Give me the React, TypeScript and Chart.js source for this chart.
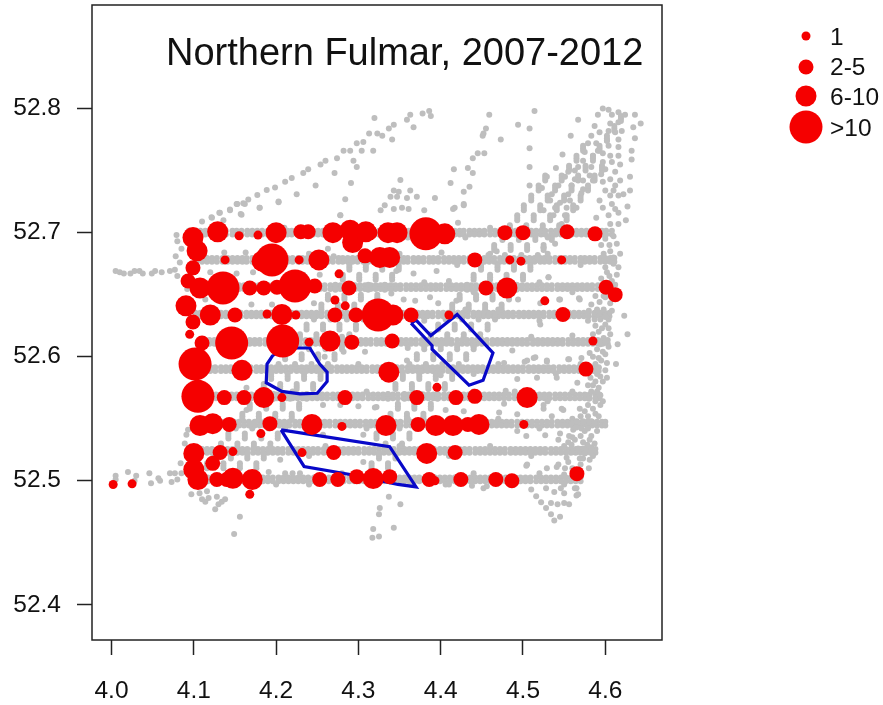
import React, { useEffect, useRef } from "react";
import { Chart, registerables } from "chart.js";

Chart.register(...registerables);

const chartTitle = "Northern Fulmar, 2007-2012";
const xTickValues = [4.0, 4.1, 4.2, 4.3, 4.4, 4.5, 4.6];
const yTickValues = [52.4, 52.5, 52.6, 52.7, 52.8];
const legendLabels = ["1", "2-5", "6-10", ">10"];

// Sightings by count class: [lon, lat]
const sightings1: number[][] = [
  [4.155,52.6975],[4.178,52.698],[4.138,52.678],[4.228,52.678],[4.484,52.678],[4.4975,52.677],[4.547,52.678],
  [4.2765,52.6668],[4.2715,52.6457],[4.284,52.641],[4.5265,52.645],[4.095,52.618],[4.189,52.6344],[4.224,52.6336],
  [4.41,52.6336],[4.24,52.6117],[4.585,52.6126],[4.207,52.567],[4.1815,52.538],[4.28,52.5438],[4.501,52.5454],
  [4.3955,52.5753],[4.1475,52.5235],[4.2315,52.5227],[4.168,52.489],[4.002,52.497],[4.025,52.4975],[4.393,52.5],
];
const sightings2to5: number[][] = [
  [4.23,52.7007],[4.239,52.7007],[4.314,52.7],[4.478,52.7],[4.5,52.7],[4.5535,52.7007],[4.5875,52.699],[4.099,52.6716],
  [4.093,52.661],[4.099,52.628],[4.11,52.611],[4.308,52.6813],[4.4415,52.678],[4.168,52.6554],[4.185,52.6554],[4.201,52.656],
  [4.247,52.657],[4.2885,52.6554],[4.455,52.6554],[4.601,52.656],[4.612,52.65],[4.15,52.6336],[4.2715,52.6336],[4.297,52.6336],
  [4.364,52.6336],[4.5485,52.634],[4.292,52.6117],[4.341,52.6126],[4.137,52.567],[4.161,52.567],[4.2837,52.567],[4.143,52.5454],
  [4.1925,52.546],[4.371,52.567],[4.4185,52.567],[4.4415,52.568],[4.5765,52.59],[4.3725,52.5454],[4.433,52.5454],[4.132,52.5227],
  [4.27,52.5227],[4.4175,52.5227],[4.123,52.514],[4.128,52.501],[4.14,52.501],[4.253,52.501],[4.275,52.501],[4.298,52.5033],
  [4.338,52.5033],[4.386,52.501],[4.4245,52.501],[4.467,52.501],[4.4865,52.5],[4.5655,52.5057],
];
const sightings6to10: number[][] = [
  [4.099,52.696],[4.129,52.7007],[4.2,52.7],[4.269,52.7],[4.29,52.702],[4.293,52.692],[4.309,52.7007],[4.336,52.7],[4.347,52.7],
  [4.405,52.699],[4.104,52.6853],[4.1075,52.6554],[4.0905,52.641],[4.12,52.6336],[4.183,52.677],[4.252,52.678],[4.326,52.68],
  [4.338,52.68],[4.4805,52.6554],[4.207,52.634],[4.342,52.6336],[4.2655,52.6126],[4.1585,52.589],[4.185,52.567],[4.1075,52.5445],
  [4.123,52.546],[4.2435,52.5454],[4.3335,52.5445],[4.394,52.5445],[4.415,52.5445],[4.4465,52.5454],[4.505,52.567],[4.337,52.5875],
  [4.1,52.522],[4.383,52.522],[4.1,52.509],[4.105,52.501],[4.1475,52.502],[4.171,52.501],[4.318,52.5017],
];
const sightingsOver10: number[][] = [
  [4.195,52.678],[4.1355,52.6554],[4.223,52.657],[4.324,52.6336],[4.146,52.611],[4.208,52.6126],[4.1015,52.594],[4.105,52.568],[4.382,52.699],
];

// Blue survey polygons
const polygonA: number[][] = [[4.196,52.601],[4.189,52.594],[4.188,52.579],[4.207,52.572],[4.229,52.57],[4.25,52.5705],[4.262,52.58],[4.262,52.5875],[4.253,52.594],[4.241,52.607],[4.229,52.607],[4.211,52.607],[4.196,52.601]];
const polygonB: number[][] = [[4.364,52.627],[4.3895,52.609],[4.3895,52.606],[4.4345,52.577],[4.4515,52.581],[4.4635,52.603],[4.42,52.634],[4.388,52.617],[4.37,52.6295],[4.364,52.627]];
const polygonC: number[][] = [[4.206,52.541],[4.338,52.5275],[4.37,52.495],[4.348,52.497],[4.29,52.505],[4.234,52.5115],[4.206,52.541]];

// Survey effort: east-west transects, paired bands [lat, lons]
const effortRows: [number, number[]][] = [
  [52.7015,[4.094,4.108,4.121,4.133,4.147,4.158,4.171,4.183,4.196,4.208,4.219,4.232,4.245,4.257,4.268,4.282,4.293,4.306,4.318,4.331,4.342,4.355,4.367,4.379,4.392,4.404,4.417,4.428,4.441,4.453,4.466,4.478,4.491,4.503,4.516,4.527,4.54,4.552,4.565,4.577,4.59,4.601]],
  [52.6985,[4.101,4.114,4.127,4.139,4.152,4.165,4.177,4.19,4.202,4.214,4.226,4.239,4.251,4.263,4.275,4.288,4.3,4.312,4.325,4.337,4.349,4.361,4.373,4.386,4.398,4.41,4.423,4.435,4.447,4.46,4.472,4.485,4.497,4.51,4.522,4.534,4.546,4.559,4.571,4.583,4.596,4.608]],
  [52.6795,[4.103,4.116,4.128,4.141,4.153,4.164,4.177,4.19,4.201,4.214,4.227,4.238,4.25,4.263,4.276,4.287,4.299,4.312,4.324,4.337,4.349,4.36,4.373,4.386,4.397,4.41,4.422,4.435,4.446,4.459,4.472,4.483,4.496,4.508,4.521,4.532,4.545,4.557,4.57,4.581,4.594,4.606]],
  [52.6765,[4.11,4.122,4.135,4.147,4.159,4.171,4.184,4.196,4.208,4.22,4.232,4.245,4.257,4.269,4.281,4.293,4.306,4.318,4.33,4.343,4.355,4.367,4.379,4.391,4.404,4.416,4.428,4.44,4.453,4.465,4.477,4.489,4.502,4.514,4.526,4.539,4.551,4.563,4.575,4.587,4.6,4.611]],
  [52.6575,[4.092,4.105,4.117,4.13,4.142,4.155,4.167,4.179,4.191,4.204,4.216,4.229,4.24,4.253,4.266,4.278,4.29,4.302,4.315,4.327,4.339,4.351,4.364,4.376,4.388,4.4,4.413,4.425,4.437,4.45,4.462,4.474,4.486,4.499,4.511,4.523,4.535,4.548,4.56,4.572,4.584,4.597]],
  [52.6545,[4.098,4.111,4.123,4.136,4.148,4.161,4.173,4.185,4.198,4.21,4.222,4.234,4.247,4.259,4.272,4.284,4.296,4.308,4.321,4.333,4.345,4.358,4.37,4.382,4.394,4.407,4.419,4.431,4.443,4.456,4.468,4.48,4.493,4.505,4.517,4.529,4.542,4.554,4.566,4.578,4.591,4.603]],
  [52.6355,[4.102,4.114,4.127,4.139,4.151,4.164,4.176,4.188,4.2,4.213,4.225,4.237,4.249,4.262,4.274,4.286,4.298,4.311,4.323,4.335,4.348,4.36,4.372,4.384,4.397,4.409,4.421,4.433,4.446,4.458,4.47,4.482,4.495,4.507,4.519,4.532,4.544,4.556,4.568,4.58,4.593,4.605]],
  [52.6325,[4.108,4.12,4.133,4.145,4.157,4.17,4.182,4.194,4.207,4.219,4.231,4.243,4.255,4.268,4.28,4.292,4.305,4.317,4.329,4.341,4.354,4.366,4.378,4.39,4.403,4.415,4.427,4.44,4.452,4.464,4.476,4.488,4.501,4.513,4.525,4.538,4.55,4.562,4.574,4.587,4.599]],
  [52.6135,[4.113,4.125,4.137,4.15,4.162,4.174,4.187,4.199,4.211,4.223,4.236,4.248,4.26,4.272,4.285,4.297,4.309,4.322,4.334,4.346,4.358,4.37,4.383,4.395,4.407,4.42,4.432,4.444,4.456,4.469,4.481,4.493,4.505,4.518,4.53,4.542,4.555,4.567,4.579,4.591,4.603]],
  [52.6105,[4.119,4.131,4.143,4.156,4.168,4.18,4.193,4.205,4.217,4.229,4.242,4.254,4.266,4.279,4.291,4.303,4.315,4.328,4.34,4.352,4.364,4.377,4.389,4.401,4.413,4.426,4.438,4.45,4.463,4.475,4.487,4.499,4.512,4.524,4.536,4.548,4.561,4.573,4.585,4.597]],
  [52.5915,[4.12,4.133,4.145,4.157,4.169,4.182,4.194,4.206,4.218,4.231,4.243,4.255,4.267,4.28,4.292,4.304,4.317,4.329,4.341,4.353,4.366,4.378,4.39,4.402,4.415,4.427,4.439,4.451,4.464,4.476,4.488,4.5,4.513,4.525,4.537,4.55,4.562,4.574,4.586]],
  [52.5885,[4.126,4.139,4.151,4.163,4.176,4.188,4.2,4.212,4.225,4.237,4.249,4.261,4.274,4.286,4.298,4.31,4.323,4.335,4.347,4.36,4.372,4.384,4.396,4.409,4.421,4.433,4.445,4.458,4.47,4.482,4.494,4.507,4.519,4.531,4.544,4.556,4.568,4.58,4.592]],
  [52.5695,[4.121,4.134,4.146,4.158,4.17,4.183,4.195,4.207,4.22,4.232,4.244,4.256,4.269,4.281,4.293,4.305,4.318,4.33,4.342,4.355,4.367,4.379,4.391,4.404,4.416,4.428,4.44,4.453,4.465,4.477,4.49,4.502,4.514,4.526,4.539,4.551,4.563,4.575,4.588]],
  [52.5665,[4.127,4.14,4.152,4.164,4.177,4.189,4.201,4.213,4.226,4.238,4.25,4.262,4.275,4.287,4.299,4.312,4.324,4.336,4.348,4.361,4.373,4.385,4.397,4.41,4.422,4.434,4.447,4.459,4.471,4.483,4.496,4.508,4.52,4.532,4.545,4.557,4.569,4.581,4.593]],
  [52.5475,[4.112,4.124,4.137,4.149,4.161,4.174,4.186,4.198,4.21,4.223,4.235,4.247,4.259,4.272,4.284,4.296,4.309,4.321,4.333,4.345,4.358,4.37,4.382,4.394,4.407,4.419,4.431,4.443,4.456,4.468,4.48,4.493,4.505,4.517,4.529,4.542,4.554,4.566,4.578,4.59,4.6]],
  [52.5445,[4.118,4.13,4.143,4.155,4.167,4.18,4.192,4.204,4.216,4.229,4.241,4.253,4.265,4.278,4.29,4.302,4.315,4.327,4.339,4.351,4.364,4.376,4.388,4.4,4.413,4.425,4.437,4.45,4.462,4.474,4.486,4.499,4.511,4.523,4.535,4.548,4.56,4.572,4.584,4.596]],
  [52.5255,[4.104,4.116,4.129,4.141,4.153,4.165,4.178,4.19,4.202,4.215,4.227,4.239,4.251,4.264,4.276,4.288,4.3,4.313,4.325,4.337,4.35,4.362,4.374,4.386,4.399,4.411,4.423,4.435,4.448,4.46,4.472,4.485,4.497,4.509,4.521,4.534,4.546,4.558,4.57,4.582]],
  [52.5225,[4.11,4.122,4.135,4.147,4.159,4.172,4.184,4.196,4.208,4.221,4.233,4.245,4.258,4.27,4.282,4.294,4.307,4.319,4.331,4.343,4.356,4.368,4.38,4.392,4.405,4.417,4.429,4.442,4.454,4.466,4.478,4.491,4.503,4.515,4.527,4.54,4.552,4.564,4.576,4.588]],
  [52.5025,[4.104,4.117,4.129,4.141,4.153,4.166,4.178,4.19,4.203,4.215,4.227,4.239,4.252,4.264,4.276,4.289,4.301,4.313,4.325,4.338,4.35,4.362,4.374,4.387,4.399,4.411,4.423,4.436,4.448,4.46,4.473,4.485,4.497,4.509,4.522,4.534,4.546,4.558,4.57]],
  [52.4995,[4.11,4.123,4.135,4.147,4.16,4.172,4.184,4.196,4.209,4.221,4.233,4.246,4.258,4.27,4.282,4.295,4.307,4.319,4.331,4.344,4.356,4.368,4.381,4.393,4.405,4.417,4.43,4.442,4.454,4.466,4.479,4.491,4.503,4.516,4.528,4.54,4.552,4.564]],
];

// Small bumps along the transects [lon, lat]
const effortBumps: number[][] = [
  [4.21,52.704],[4.31,52.705],[4.46,52.704],[4.53,52.696],[4.43,52.696],[4.36,52.696],[4.24,52.683],[4.35,52.683],[4.42,52.674],[4.53,52.683],[4.57,52.674],[4.46,52.683],
  [4.38,52.66],[4.44,52.652],[4.52,52.66],[4.56,52.652],[4.41,52.661],[4.34,52.651],[4.33,52.637],[4.43,52.638],[4.52,52.629],[4.47,52.638],[4.58,52.637],[4.38,52.629],
  [4.51,52.616],[4.44,52.608],[4.56,52.617],[4.28,52.616],[4.36,52.607],[4.47,52.594],[4.54,52.586],[4.4,52.585],[4.3,52.594],[4.44,52.586],[4.57,52.594],
  [4.31,52.572],[4.37,52.564],[4.49,52.572],[4.53,52.564],[4.56,52.572],[4.44,52.572],[4.22,52.572],[4.47,52.55],[4.52,52.542],[4.56,52.55],[4.36,52.55],[4.31,52.542],[4.41,52.55],
  [4.46,52.528],[4.51,52.52],[4.55,52.528],[4.41,52.52],[4.35,52.528],[4.24,52.52],[4.26,52.528],[4.44,52.506],[4.41,52.497],[4.52,52.506],[4.55,52.497],[4.22,52.506],[4.24,52.497],[4.28,52.506],[4.2,52.497],
];

// Survey effort: diagonal transects
const diagLatsWest = [52.51,52.518,52.526,52.534,52.542,52.55,52.558,52.566,52.574,52.582,52.59,52.598,52.606,52.614,52.622,52.63,52.638,52.646,52.654,52.662,52.67];
const diagLatsWestMid = [52.512,52.52,52.528,52.536,52.544,52.552,52.56,52.568,52.576,52.584,52.592,52.6,52.608,52.616,52.624,52.632,52.64,52.648,52.656,52.664,52.672];
const diagLatsWestShifted = [52.514,52.522,52.53,52.538,52.546,52.554,52.562,52.57,52.578,52.586,52.594,52.602,52.61,52.618,52.626,52.634,52.642,52.65,52.658,52.666,52.674];
const diagWest1 = [4.116,4.125,4.133,4.142,4.151,4.159,4.168,4.177,4.185,4.194,4.203,4.211,4.22,4.229,4.237,4.246,4.255,4.263,4.272,4.281,4.289];
const diagWest2 = [4.136,4.145,4.153,4.162,4.171,4.179,4.188,4.197,4.205,4.214,4.223,4.231,4.24,4.249,4.257,4.266,4.275,4.283,4.292,4.301,4.309];
const diagWest3 = [4.156,4.165,4.173,4.182,4.191,4.199,4.208,4.217,4.225,4.234,4.243,4.251,4.26,4.269,4.277,4.286,4.295,4.303,4.312,4.321,4.329];
const diagWest4 = [4.176,4.185,4.193,4.202,4.211,4.219,4.228,4.237,4.245,4.254,4.263,4.271,4.28,4.289,4.297,4.306,4.315,4.323,4.332,4.341,4.349];
const diagLatsEast = [52.51,52.518,52.526,52.534,52.542,52.55,52.558,52.566,52.574,52.582,52.59,52.598,52.606,52.614,52.622,52.63,52.638,52.646,52.654,52.662,52.67,52.678,52.686,52.694,52.702,52.71,52.718,52.726,52.734,52.742,52.75,52.758,52.766,52.774,52.782,52.79];
const diagLatsEastMid = [52.512,52.52,52.528,52.536,52.544,52.552,52.56,52.568,52.576,52.584,52.592,52.6,52.608,52.616,52.624,52.632,52.64,52.648,52.656,52.664,52.672,52.68,52.688,52.696,52.704,52.712,52.72,52.728,52.736,52.744,52.752,52.76,52.768,52.776,52.784,52.792];
const diagLatsEastShifted = [52.514,52.522,52.53,52.538,52.546,52.554,52.562,52.57,52.578,52.586,52.594,52.602,52.61,52.618,52.626,52.634,52.642,52.65,52.658,52.666,52.674,52.682,52.69,52.698,52.706,52.714,52.722,52.73,52.738,52.746,52.754,52.762,52.77,52.778,52.786,52.794];
const diagEast1 = [0,0,0,0,0,0,0,4.336,4.345,4.354,4.362,4.371,4.38,4.388,4.397,4.406,4.414,4.423,4.432,4.44,4.449,4.458,4.465,4.475,4.484,4.493,4.501,4.51,4.519,4.527];
const diagEast2 = [0,0,0,4.322,4.33,4.339,4.348,4.356,4.365,4.374,4.382,4.391,4.4,4.408,4.417,4.426,4.434,4.443,4.452,4.46,4.469,4.478,4.485,4.495,4.504,4.513,4.521,4.53,4.539,4.547,4.556,4.565,4.573];
const diagEast3 = [4.316,4.325,4.333,4.342,4.35,4.359,4.368,4.376,4.385,4.394,4.402,4.411,4.42,4.428,4.437,4.446,4.454,4.463,4.472,4.48,4.489,4.498,4.505,4.515,4.524,4.533,4.541,4.55,4.559,4.567,4.576,4.585,4.593,4.602,4.611,4.619];
const diagEast4 = [4.336,4.345,4.353,4.362,4.37,4.379,4.388,4.396,4.405,4.414,4.422,4.431,4.44,4.448,4.457,4.466,4.474,4.483,4.492,4.5,4.509,4.518,4.525,4.535,4.544,4.553,4.561,4.57,4.579,4.587,4.596];

// Survey effort: outer tracks and scatter [lon, lat]
const effortNorthWest: number[][] = [
  [4.1215,52.7123],[4.1317,52.716],[4.1439,52.7187],[4.1528,52.7231],[4.1601,52.7236],[4.1662,52.7268],[4.1772,52.7303],[4.1886,52.7344],[4.1987,52.7363],[4.211,52.741],[4.219,52.744],[4.233,52.748],[4.239,52.751],[4.254,52.755],[4.26,52.758],[4.274,52.76],[4.282,52.766],[4.29,52.766],[4.298,52.772],[4.306,52.773],[4.313,52.78],[4.323,52.78],[4.329,52.778],[4.337,52.784],[4.343,52.787],[4.359,52.791],[4.363,52.795],[4.378,52.796],[4.386,52.798],[4.388,52.794],
  [4.3195,52.7925],[4.367,52.785],[4.341,52.775],[4.318,52.766],[4.304,52.766],[4.294,52.758],[4.298,52.753],[4.271,52.748],[4.248,52.738],[4.225,52.731],[4.203,52.725],[4.18,52.72],[4.157,52.715],[4.291,52.74],[4.284,52.727],[4.278,52.714],
  [4.351,52.7425],[4.343,52.734],[4.349,52.733],[4.363,52.734],[4.347,52.729],[4.339,52.729],[4.359,52.728],[4.371,52.729],[4.332,52.722],[4.343,52.719],[4.353,52.72],[4.361,52.719],[4.38,52.718],[4.393,52.728],[4.327,52.718],[4.417,52.72],[4.428,52.723],
  [4.459,52.795],[4.455,52.784],[4.452,52.78],[4.451,52.778],[4.473,52.775],[4.445,52.764],[4.453,52.764],[4.439,52.76],[4.416,52.751],[4.433,52.752],[4.439,52.748],[4.412,52.74],[4.435,52.737],[4.428,52.733],[4.494,52.787],[4.508,52.784],[4.514,52.798],[4.508,52.768],[4.508,52.753],[4.508,52.738],
];
const effortNorthEast: number[][] = [
  [4.597,52.8],[4.591,52.795],[4.604,52.799],[4.608,52.795],[4.616,52.797],[4.624,52.795],[4.636,52.795],[4.643,52.788],[4.606,52.788],[4.616,52.789],[4.634,52.785],[4.587,52.786],[4.593,52.781],[4.604,52.782],[4.612,52.781],[4.62,52.782],[4.636,52.776],[4.583,52.778],[4.602,52.774],[4.616,52.775],[4.579,52.772],[4.589,52.772],[4.604,52.77],[4.616,52.769],[4.632,52.766],[4.575,52.765],[4.591,52.766],[4.597,52.764],[4.606,52.762],[4.616,52.762],[4.585,52.762],[4.573,52.758],[4.597,52.757],[4.608,52.757],[4.618,52.755],[4.632,52.759],[4.567,52.753],[4.563,52.75],[4.583,52.753],[4.6,52.751],[4.612,52.749],[4.63,52.745],[4.555,52.749],[4.581,52.746],[4.595,52.747],[4.606,52.743],[4.618,52.742],[4.551,52.745],[4.563,52.743],[4.573,52.742],[4.597,52.741],[4.585,52.742],[4.612,52.738],[4.63,52.734],[4.543,52.738],[4.559,52.738],[4.573,52.735],[4.6,52.734],[4.61,52.734],[4.622,52.731],[4.535,52.731],[4.555,52.731],[4.571,52.732],[4.593,52.726],[4.606,52.73],[4.616,52.73],[4.533,52.726],[4.545,52.724],[4.557,52.726],[4.608,52.723],[4.627,52.721],[4.525,52.718],[4.539,52.72],[4.553,52.72],[4.565,52.72],[4.597,52.72],[4.612,52.719],[4.616,52.716],[4.537,52.714],[4.551,52.714],[4.589,52.712],[4.604,52.714],[4.625,52.71],[4.547,52.707],[4.606,52.707],[4.616,52.707],[4.567,52.791],[4.558,52.778],[4.548,52.763],[4.54,52.752],[4.529,52.745],[4.523,52.736],
];
const effortEast: number[][] = [
  [4.614,52.691],[4.606,52.685],[4.618,52.683],[4.598,52.683],[4.61,52.675],[4.616,52.672],[4.602,52.668],[4.614,52.666],[4.608,52.661],[4.598,52.649],[4.588,52.649],[4.583,52.642],[4.606,52.643],[4.598,52.638],[4.608,52.637],[4.604,52.63],[4.594,52.63],[4.579,52.629],[4.604,52.623],[4.596,52.623],[4.588,52.625],[4.606,52.618],[4.598,52.615],[4.594,52.61],[4.604,52.608],[4.6,52.602],[4.592,52.599],[4.581,52.603],[4.602,52.595],[4.592,52.591],[4.594,52.584],[4.588,52.58],[4.579,52.577],[4.592,52.575],[4.583,52.572],[4.594,52.569],[4.577,52.569],[4.588,52.564],[4.594,52.561],[4.579,52.561],[4.569,52.558],[4.588,52.554],[4.579,52.552],[4.583,52.548],[4.573,52.548],[4.565,52.548],[4.559,52.546],[4.579,52.542],[4.571,52.542],[4.561,52.541],[4.581,52.533],[4.573,52.531],[4.563,52.533],[4.559,52.529],[4.583,52.527],[4.573,52.526],[4.581,52.517],[4.573,52.518],[4.555,52.515],[4.551,52.51],[4.563,52.494],[4.565,52.488],
  [4.623,52.633],[4.627,52.618],[4.613,52.594],[4.602,52.583],[4.615,52.61],[4.569,52.646],[4.545,52.646],[4.531,52.664],[4.521,52.626],[4.555,52.598],[4.529,52.596],[4.513,52.599],[4.502,52.596],[4.571,52.599],[4.549,52.557],[4.525,52.561],[4.535,52.552],[4.545,52.538],[4.555,52.531],[4.504,52.512],[4.541,52.511],[4.569,52.518],[4.521,52.643],
];
const effortEastFill: number[][] = [
  [4.6,52.695],[4.61,52.697],[4.605,52.69],[4.595,52.69],[4.61,52.68],[4.6,52.672],[4.605,52.665],[4.595,52.663],[4.612,52.658],[4.6,52.648],[4.593,52.644],[4.59,52.638],[4.6,52.632],[4.587,52.63],[4.6,52.626],[4.592,52.62],[4.585,52.618],[4.6,52.612],[4.59,52.606],[4.597,52.604],[4.585,52.6],[4.595,52.597],[4.588,52.594],[4.6,52.589],[4.59,52.586],[4.582,52.583],[4.597,52.58],[4.585,52.577],[4.59,52.572],[4.58,52.566],[4.597,52.564],[4.585,52.558],[4.575,52.556],[4.592,52.552],[4.58,52.548],[4.57,52.552],[4.587,52.546],[4.565,52.543],[4.575,52.54],[4.59,52.54],[4.583,52.536],[4.57,52.536],[4.56,52.535],[4.578,52.529],[4.567,52.526],[4.587,52.53],[4.56,52.523],[4.575,52.522],[4.585,52.52],[4.57,52.513],[4.56,52.51],[4.58,52.51],[4.55,52.505],[4.565,52.507],
];
const effortSouth: number[][] = [
  [4.516,52.4875],[4.522,52.4826],[4.528,52.478],[4.534,52.482],[4.542,52.481],[4.55,52.482],[4.556,52.481],[4.534,52.473],[4.538,52.468],[4.545,52.471],[4.51,52.493],[4.528,52.494],[4.538,52.491],[4.546,52.494],[4.55,52.49],[4.565,52.494],[4.567,52.489],
  [4.337,52.487],[4.351,52.481],[4.326,52.478],[4.325,52.473],[4.343,52.462],[4.318,52.461],[4.325,52.455],[4.317,52.454],[4.149,52.457],[4.156,52.471],
  [4.097,52.489],[4.107,52.49],[4.116,52.4915],[4.11,52.485],[4.118,52.486],[4.128,52.487],[4.138,52.485],[4.13,52.481],[4.126,52.477],[4.134,52.483],[4.114,52.483],
];
const effortWest: number[][] = [
  [4.005,52.504],[4.005,52.501],[4.02,52.507],[4.03,52.504],[4.028,52.5],[4.046,52.506],[4.057,52.502],[4.048,52.498],[4.059,52.5],[4.071,52.506],[4.077,52.506],[4.085,52.506],[4.073,52.499],[4.08,52.501],[4.084,52.514],
  [4.005,52.669],[4.01,52.668],[4.015,52.667],[4.023,52.667],[4.028,52.669],[4.034,52.669],[4.038,52.667],[4.049,52.667],[4.053,52.669],[4.061,52.668],[4.071,52.669],[4.077,52.67],[4.08,52.665],
  [4.079,52.698],[4.08,52.693],[4.085,52.687],[4.078,52.681],[4.083,52.676],[4.093,52.541],[4.091,52.537],[4.089,52.53],
];
const effortScatter: number[][] = [
  [4.415,52.719],[4.428,52.722],[4.367,52.667],[4.346,52.669],[4.395,52.669],[4.355,52.646],[4.387,52.648],[4.369,52.645],[4.397,52.643],[4.419,52.645],[4.494,52.646],[4.544,52.646],[4.568,52.647],[4.531,52.664],[4.421,52.708],[4.468,52.685],[4.525,52.688],[4.539,52.691],[4.401,52.684],
  [4.359,52.597],[4.477,52.595],[4.505,52.597],[4.529,52.597],[4.515,52.5995],[4.487,52.605],[4.556,52.598],[4.479,52.5725],[4.493,52.582],[4.517,52.583],[4.541,52.583],[4.566,52.579],[4.322,52.5595],[4.406,52.557],[4.428,52.556],[4.471,52.555],[4.477,52.562],[4.493,52.5535],[4.525,52.558],[4.547,52.558],[4.493,52.54],[4.504,52.536],[4.527,52.5366],[4.543,52.533],[4.556,52.536],[4.505,52.513],[4.543,52.513],[4.553,52.5185],[4.529,52.51],[4.452,52.494],[4.406,52.497],[4.438,52.496],[4.456,52.4955],[4.363,52.497],
  [4.137,52.684],[4.163,52.684],[4.263,52.687],[4.27,52.681],[4.17,52.642],[4.195,52.642],[4.246,52.643],[4.278,52.714],[4.203,52.7245],[4.18,52.72],[4.158,52.7145],[4.152,52.723],[4.162,52.723],[4.144,52.718],[4.131,52.716],[4.122,52.712],[4.11,52.709],[4.136,52.71],[4.114,52.646],[4.172,52.668],[4.12,52.668],[4.152,52.667],[4.233,52.666],[4.253,52.666],
  [4.164,52.575],[4.164,52.557],[4.257,52.561],[4.278,52.561],[4.3,52.56],[4.32,52.559],[4.282,52.604],[4.308,52.604],[4.205,52.517],[4.306,52.515],[4.259,52.6],[4.191,52.507],[4.211,52.506],[4.229,52.506],[4.257,52.537],[4.306,52.537],
];

const greyColor = "#bebebe";
const redColor = "#f50000";
const blueColor = "#0808c8";

function zipTrack(lons: number[], lats: number[]) {
  return lons.map((lon, i) => ({ x: lon, y: lats[i] })).filter((p) => p.x > 0);
}
const toPoints = (pairs: number[][]) => pairs.map(([x, y]) => ({ x, y }));

function effortPoints() {
  const pts: { x: number; y: number }[] = [];
  effortRows.forEach(([lat, lons], i) => {
    const partner = effortRows[i % 2 === 0 ? i + 1 : i - 1][1];
    for (const lon of lons) pts.push({ x: lon, y: lat });
    for (const lon of partner) pts.push({ x: lon, y: lat });
  });
  for (const t of [diagWest1, diagWest2, diagWest3, diagWest4]) {
    for (const ladder of [diagLatsWest, diagLatsWestMid, diagLatsWestShifted]) pts.push(...zipTrack(t, ladder));
  }
  for (const t of [diagEast1, diagEast2, diagEast3, diagEast4]) {
    for (const ladder of [diagLatsEast, diagLatsEastMid, diagLatsEastShifted]) pts.push(...zipTrack(t, ladder));
  }
  for (const g of [effortBumps, effortNorthWest, effortNorthEast, effortEast, effortEastFill, effortSouth, effortWest, effortScatter]) pts.push(...toPoints(g));
  return pts;
}

const overlayPlugin = {
  id: "mapOverlay",
  afterDraw(chart: any) {
    const { ctx, chartArea: a } = chart;
    ctx.save();
    ctx.strokeStyle = "#222";
    ctx.lineWidth = 1.5;
    ctx.strokeRect(a.left, a.top, a.right - a.left, a.bottom - a.top);
    ctx.fillStyle = "#111";
    ctx.font = '38px "Liberation Sans", Arial, sans-serif';
    ctx.textAlign = "left";
    ctx.textBaseline = "alphabetic";
    ctx.fillText(chartTitle, 166, 65);
    const radii = [4.5, 7.5, 10.5, 16.5];
    const rowsY = [36, 67, 96, 127];
    const baselines = [45, 75, 105, 136];
    ctx.font = '24.5px "Liberation Sans", Arial, sans-serif';
    legendLabels.forEach((label, i) => {
      ctx.fillStyle = redColor;
      ctx.beginPath();
      ctx.arc(806, rowsY[i], radii[i], 0, Math.PI * 2);
      ctx.fill();
      ctx.fillStyle = "#111";
      ctx.fillText(label, 830, baselines[i]);
    });
    ctx.restore();
  },
};

export default function App() {
  const ref = useRef<HTMLCanvasElement>(null);
  useEffect(() => {
    const polygon = (pairs: number[][]) => ({
      data: toPoints(pairs), showLine: true, borderColor: blueColor, borderWidth: 3.2, pointRadius: 0, fill: false, tension: 0, order: 9,
    });
    const red = (pairs: number[][], r: number, order: number) => ({
      data: toPoints(pairs), backgroundColor: redColor, borderWidth: 0, pointRadius: r, pointHoverRadius: r, order,
    });
    const tickFont = { size: 24.5, family: '"Liberation Sans", Arial, sans-serif' };
    const clearPad = (s: any) => { s.paddingTop = 0; s.paddingBottom = 0; s.paddingLeft = 0; s.paddingRight = 0; };
    const chart = new Chart(ref.current!, {
      type: "scatter",
      data: {
        datasets: [
          { data: effortPoints(), backgroundColor: greyColor, borderWidth: 0, pointRadius: 3, order: 10 },
          polygon(polygonA), polygon(polygonB), polygon(polygonC),
          red(sightingsOver10, 16.5, 4), red(sightings6to10, 10.5, 3), red(sightings2to5, 7.5, 2), red(sightings1, 4.5, 1),
        ] as any,
      },
      options: {
        animation: false,
        responsive: false,
        layout: { autoPadding: false, padding: { top: 5, right: 221, left: 0, bottom: 0 } },
        plugins: { legend: { display: false }, title: { display: false }, tooltip: { enabled: false } },
        scales: {
          x: {
            type: "linear", min: 3.9763, max: 4.6689,
            afterBuildTicks: (s: any) => { s.ticks = xTickValues.map((value) => ({ value })); },
            afterFit: (s: any) => { s.height = 65; clearPad(s); },
            ticks: { color: "#111", font: tickFont, padding: 22, maxRotation: 0, callback: (v: any) => Number(v).toFixed(1) },
            grid: { drawOnChartArea: false, drawTicks: true, tickLength: 15, tickColor: "#222", tickWidth: 1.5 },
            border: { display: false },
          },
          y: {
            type: "linear", min: 52.3716, max: 52.8835,
            afterBuildTicks: (s: any) => { s.ticks = yTickValues.map((value) => ({ value })); },
            afterFit: (s: any) => { s.width = 92; clearPad(s); },
            ticks: { color: "#111", font: tickFont, padding: 16, callback: (v: any) => Number(v).toFixed(1) },
            grid: { drawOnChartArea: false, drawTicks: true, tickLength: 15, tickColor: "#222", tickWidth: 1.5 },
            border: { display: false },
          },
        },
      } as any,
      plugins: [overlayPlugin as any],
    });
    return () => chart.destroy();
  }, []);
  return (
    <canvas ref={ref} width={883} height={705} style={{ position: "absolute", left: 0, top: 0, width: 883, height: 705, background: "#fff" }} />
  );
}
